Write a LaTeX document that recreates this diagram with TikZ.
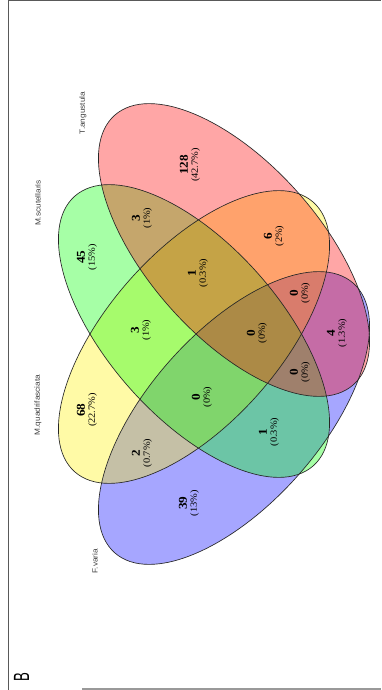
\documentclass[tikz,border=0pt]{standalone}
\usepackage{fontspec}
\setmainfont{Liberation Serif}
\newfontfamily\labfont{Liberation Sans}
\begin{document}
\begin{tikzpicture}[x=1pt,y=1pt,
  vline/.style={draw=black!85, line width=0.65pt},
  vfill/.style={fill opacity=0.35, draw=none},
  cnt/.style={rotate=90, xscale=1.1, align=center, inner sep=0pt, font=\fontsize{9.5}{10}\selectfont},
  setlab/.style={rotate=90, xscale=1.1, inner sep=0pt, font=\labfont\fontsize{7.5}{8}\selectfont, text=black!75},
  framel/.style={draw=black!65, line width=1.4pt}
]
\useasboundingbox (0,0) rectangle (381,-690);
\fill[white] (0,0) rectangle (381,-690);
% frame
\draw[framel] (8.5,-690) -- (8.5,-0.8) -- (381,-0.8);
\draw[draw=black!40, line width=1.2pt] (82,-689) -- (381,-689);
\node[rotate=90, xscale=0.6, inner sep=0pt, font=\labfont\fontsize{22}{22}\selectfont] (panel) at (21.5,-677.5) {B};
% ellipse fills: F.varia (blue), M.quadrifasciata (yellow), M.scutellaris (green), T.angustula (red)
\fill[vfill, blue]   [rotate around={48.5:(234,-418)}]  (234,-418) ellipse [x radius=180, y radius=86];
\fill[vfill, yellow] [rotate around={48.5:(194,-337)}]  (194,-337) ellipse [x radius=180, y radius=86];
\fill[vfill, green]  [rotate around={-48.5:(194,-331)}] (194,-331) ellipse [x radius=180, y radius=86];
\fill[vfill, red]    [rotate around={-48.5:(234,-250)}] (234,-250) ellipse [x radius=180, y radius=86];
% outlines
\draw[vline] [rotate around={48.5:(234,-418)}]  (234,-418) ellipse [x radius=180, y radius=86];
\draw[vline] [rotate around={48.5:(194,-337)}]  (194,-337) ellipse [x radius=180, y radius=86];
\draw[vline] [rotate around={-48.5:(194,-331)}] (194,-331) ellipse [x radius=180, y radius=86];
\draw[vline] [rotate around={-48.5:(234,-250)}] (234,-250) ellipse [x radius=180, y radius=86];
% set labels
\node[setlab] (lT) at (83,-113) {T.angustula};
\node[setlab] (lS) at (38,-203) {M.scutellaris};
\node[setlab] (lQ) at (38,-405) {M.quadrifasciata};
\node[setlab] (lF) at (95,-561) {F.varia};
% counts
\node[cnt] (c1) at (190,-165) {{\fontsize{12}{10}\selectfont\bfseries 128}\\(42.7\%)};
\node[cnt] (c2) at (142,-218) {{\fontsize{12}{10}\selectfont\bfseries 3}\\(1\%)};
\node[cnt] (c3) at (87,-257) {{\fontsize{12}{10}\selectfont\bfseries 45}\\(15\%)};
\node[cnt] (c4) at (198,-273) {{\fontsize{12}{10}\selectfont\bfseries 1}\\(0.3\%)};
\node[cnt] (c5) at (274,-236) {{\fontsize{12}{10}\selectfont\bfseries 6}\\(2\%)};
\node[cnt] (c6) at (300,-293) {{\fontsize{12}{10}\selectfont\bfseries 0}\\(0\%)};
\node[cnt] (c7) at (141,-330) {{\fontsize{12}{10}\selectfont\bfseries 3}\\(1\%)};
\node[cnt] (c8) at (257,-333) {{\fontsize{12}{10}\selectfont\bfseries 0}\\(0\%)};
\node[cnt] (c9) at (337,-333) {{\fontsize{12}{10}\selectfont\bfseries 4}\\(1.3\%)};
\node[cnt] (c10) at (87,-410) {{\fontsize{12}{10}\selectfont\bfseries 68}\\(22.7\%)};
\node[cnt] (c11) at (202,-397) {{\fontsize{12}{10}\selectfont\bfseries 0}\\(0\%)};
\node[cnt] (c12) at (300,-372) {{\fontsize{12}{10}\selectfont\bfseries 0}\\(0\%)};
\node[cnt] (c13) at (142,-453) {{\fontsize{12}{10}\selectfont\bfseries 2}\\(0.7\%)};
\node[cnt] (c14) at (269,-432) {{\fontsize{12}{10}\selectfont\bfseries 1}\\(0.3\%)};
\node[cnt] (c15) at (189,-503) {{\fontsize{12}{10}\selectfont\bfseries 39}\\(13\%)};
\end{tikzpicture}
\end{document}
